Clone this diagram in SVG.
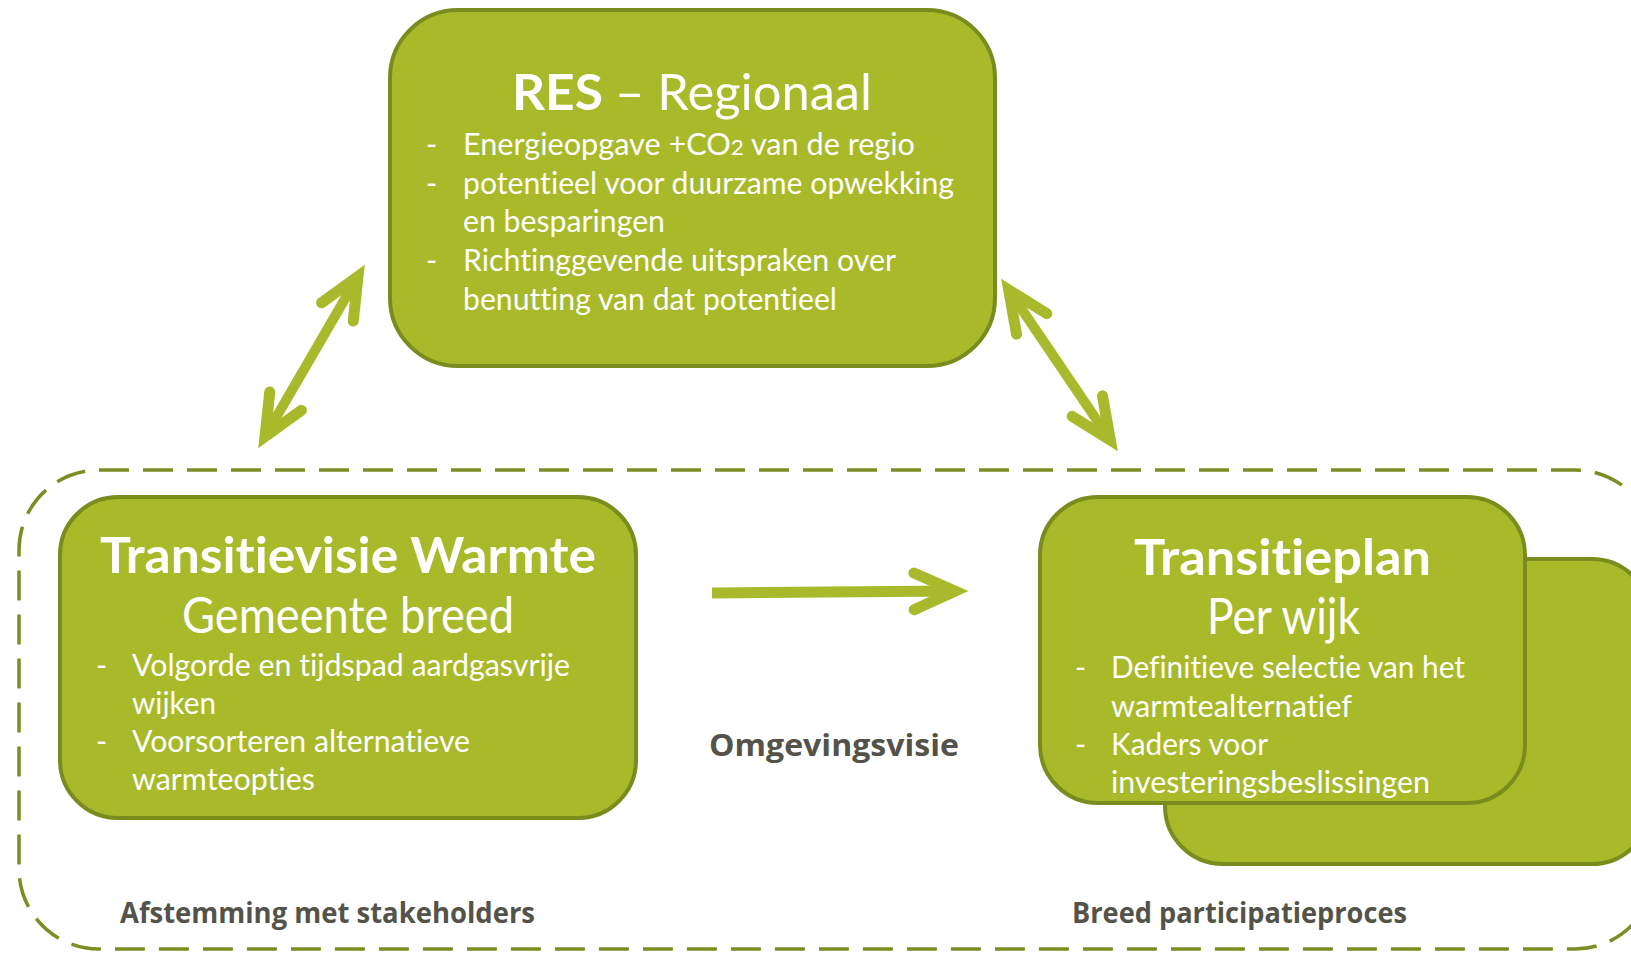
<svg xmlns="http://www.w3.org/2000/svg" width="1631" height="953" viewBox="0 0 1631 953">
  <defs>
    <style>
      .box { fill: #a8b92a; stroke: #7b8c1f; stroke-width: 4; }
      .frame { fill: none; stroke: #7d8d24; stroke-width: 3.5; stroke-dasharray: 30 14; }
      .shaft { fill: none; stroke: #a8ba2b; stroke-linecap: butt; }
      .ttl { font-family: Lato, "Open Sans", sans-serif; font-size: 50px; fill: #ffffff; font-variant-ligatures: none; font-feature-settings: "liga" 0; }
      .b { font-weight: 700; }
      .body { font-family: Lato, "Open Sans", sans-serif; font-size: 30px; fill: #ffffff; font-variant-ligatures: none; font-feature-settings: "liga" 0; }
      .lbl { font-family: "Open Sans", "Liberation Sans", sans-serif; font-weight: 700; fill: #54534a; }
    </style>
    <marker id="chev" markerUnits="userSpaceOnUse" markerWidth="120" markerHeight="120" viewBox="-60 -60 120 120" refX="0" refY="0" orient="auto-start-reverse" overflow="visible">
      <path d="M-41,-18.3 L0,0 L-41,18.3" fill="none" stroke="#a8ba2b" stroke-width="11" stroke-linecap="round" stroke-linejoin="miter" stroke-miterlimit="6"/>
    </marker>
  </defs>

  <!-- dashed municipal frame -->
  <rect id="frame" class="frame" x="19" y="470" width="1636" height="479" rx="80" ry="80"/>

  <!-- RES box -->
  <g id="res">
    <rect class="box" x="390" y="10" width="605" height="356" rx="68" ry="68"/>
    <text class="ttl b" x="512" y="110" textLength="91" lengthAdjust="spacingAndGlyphs">RES</text>
    <text class="ttl" x="615" y="110" textLength="257" lengthAdjust="spacingAndGlyphs">– Regionaal</text>
    <text class="body" x="426" y="155">-</text>
    <text class="body" x="463" y="155" textLength="452" lengthAdjust="spacingAndGlyphs">Energieopgave +CO<tspan font-size="22">2</tspan>  van de regio</text>
    <text class="body" x="426" y="194">-</text>
    <text class="body" x="463" y="194" textLength="491" lengthAdjust="spacingAndGlyphs">potentieel voor duurzame opwekking</text>
    <text class="body" x="463" y="232" textLength="202" lengthAdjust="spacingAndGlyphs">en besparingen</text>
    <text class="body" x="426" y="271">-</text>
    <text class="body" x="463" y="271" textLength="433" lengthAdjust="spacingAndGlyphs">Richtinggevende uitspraken over</text>
    <text class="body" x="463" y="310" textLength="374" lengthAdjust="spacingAndGlyphs">benutting van dat potentieel</text>
  </g>

  <!-- Transitievisie Warmte box -->
  <g id="tvw">
    <rect class="box" x="60" y="497" width="576" height="321" rx="58" ry="58"/>
    <text class="ttl b" x="100" y="573" textLength="496" lengthAdjust="spacingAndGlyphs">Transitievisie Warmte</text>
    <text class="ttl" x="182" y="633" textLength="332" lengthAdjust="spacingAndGlyphs">Gemeente breed</text>
    <text class="body" x="96" y="676">-</text>
    <text class="body" x="132" y="676" textLength="438" lengthAdjust="spacingAndGlyphs">Volgorde en tijdspad aardgasvrije</text>
    <text class="body" x="132" y="714" textLength="84" lengthAdjust="spacingAndGlyphs">wijken</text>
    <text class="body" x="96" y="752">-</text>
    <text class="body" x="132" y="752" textLength="338" lengthAdjust="spacingAndGlyphs">Voorsorteren alternatieve</text>
    <text class="body" x="132" y="790" textLength="183" lengthAdjust="spacingAndGlyphs">warmteopties</text>
  </g>

  <!-- Transitieplan stack -->
  <g id="tp">
    <rect class="box" x="1165" y="559" width="485" height="305" rx="58" ry="58"/>
    <rect class="box" x="1040" y="497" width="485" height="306" rx="58" ry="58"/>
    <text class="ttl b" x="1134" y="575" textLength="297" lengthAdjust="spacingAndGlyphs">Transitieplan</text>
    <text class="ttl" x="1207" y="634" textLength="153" lengthAdjust="spacingAndGlyphs">Per wijk</text>
    <text class="body" x="1075" y="678">-</text>
    <text class="body" x="1111" y="678" textLength="354" lengthAdjust="spacingAndGlyphs">Definitieve selectie van het</text>
    <text class="body" x="1111" y="717" textLength="241" lengthAdjust="spacingAndGlyphs">warmtealternatief</text>
    <text class="body" x="1075" y="755">-</text>
    <text class="body" x="1111" y="755" textLength="157" lengthAdjust="spacingAndGlyphs">Kaders voor</text>
    <text class="body" x="1111" y="793" textLength="319" lengthAdjust="spacingAndGlyphs">investeringsbeslissingen</text>
  </g>

  <!-- labels -->
  <g id="labels">
    <text class="lbl" x="709" y="756" font-size="30" textLength="250" lengthAdjust="spacingAndGlyphs">Omgevingsvisie</text>
    <text class="lbl" x="120" y="923" font-size="28" textLength="415" lengthAdjust="spacingAndGlyphs">Afstemming met stakeholders</text>
    <text class="lbl" x="1072" y="923" font-size="28" textLength="335" lengthAdjust="spacingAndGlyphs">Breed participatieproces</text>
  </g>

  <!-- connectors -->
  <g id="connectors">
    <path class="shaft" stroke-width="10" d="M265,436.6 L358,276.4" marker-start="url(#chev)" marker-end="url(#chev)"/>
    <path class="shaft" stroke-width="10" d="M1008.7,290 L1110.3,440" marker-start="url(#chev)" marker-end="url(#chev)"/>
    <path class="shaft" stroke-width="11" d="M712,593 L955,591" marker-end="url(#chev)"/>
  </g>
</svg>
